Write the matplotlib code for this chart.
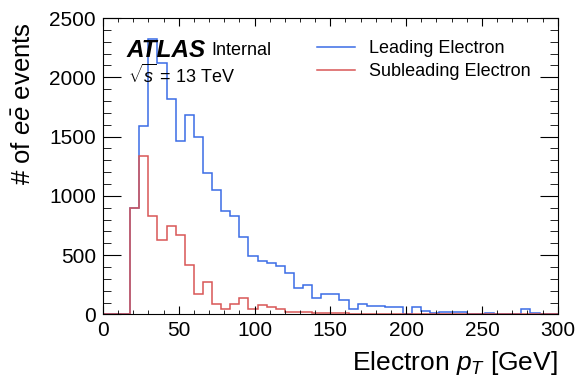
import numpy as np
from matplotlib import pyplot as plt
from matplotlib.ticker import MultipleLocator

plt.rcParams['font.family'] = ['Liberation Sans', 'DejaVu Sans']
plt.rcParams['mathtext.fontset'] = 'custom'
plt.rcParams['mathtext.rm'] = 'Liberation Sans'
plt.rcParams['mathtext.it'] = 'Liberation Sans:italic'
plt.rcParams['mathtext.bf'] = 'Liberation Sans:bold'

# 6 GeV bins from 0 to 300
bin_edges = np.arange(0, 301, 6)

leading = [0, 0, 0, 897, 1590, 2325, 2120, 1815, 1460, 1685,
           1495, 1190, 1050, 875, 832, 657, 490, 450, 432, 412,
           348, 221, 249, 139, 170, 170, 122, 44, 89, 75,
           75, 61, 61, 0, 65, 28, 12, 22, 22, 22,
           0, 0, 12, 0, 0, 0, 44, 13, 0, 0]

subleading = [0, 0, 0, 897, 1333, 826, 629, 742, 671, 415,
              170, 277, 89, 44, 89, 137, 44, 78, 65, 48,
              24, 24, 24, 8, 14, 14, 14, 0, 0, 0,
              0, 0, 0, 0, 0, 0, 0, 0, 0, 0,
              0, 0, 0, 0, 0, 0, 0, 0, 0, 0]

fig = plt.figure(figsize=(5.78, 3.83), dpi=100)
ax = fig.add_axes([0.178, 0.179, 0.787, 0.774])

ax.stairs(leading, bin_edges, color='#3b6ce6', lw=1.1, label='Leading Electron')
ax.stairs(subleading, bin_edges, color='#d95656', lw=1.1, label='Subleading Electron')

ax.set_xlim(0, 300)
ax.set_ylim(0, 2500)
ax.xaxis.set_major_locator(MultipleLocator(50))
ax.xaxis.set_minor_locator(MultipleLocator(10))
ax.yaxis.set_major_locator(MultipleLocator(500))
ax.yaxis.set_minor_locator(MultipleLocator(100))
ax.tick_params(which='both', direction='in', top=True, right=True, labelsize=15)
ax.tick_params(axis='x', which='major', length=6, pad=5)
ax.tick_params(axis='x', which='minor', length=3)
ax.tick_params(axis='y', which='major', length=13, pad=5)
ax.tick_params(axis='y', which='minor', length=6)

ax.set_xlabel(r'Electron $p_T$ [GeV]', fontsize=19, loc='right', labelpad=6)
ax.set_ylabel(r'# of $e\bar{e}$ events', fontsize=18.5, loc='top')
ax.yaxis.set_label_coords(-0.15, 0.985)

ax.text(0.052, 0.93, 'ATLAS', transform=ax.transAxes, fontsize=17.5,
        fontweight='bold', fontstyle='italic', va='top')
ax.text(0.238, 0.918, 'Internal', transform=ax.transAxes, fontsize=13, va='top')
ax.text(0.055, 0.845, r'$\sqrt{s}$ = 13 TeV', transform=ax.transAxes, fontsize=13, va='top')

ax.legend(loc='upper right', bbox_to_anchor=(0.976, 0.98), frameon=False,
          fontsize=13, handlelength=2.1, labelspacing=0.35)

fig.savefig('out.png', dpi=100)
